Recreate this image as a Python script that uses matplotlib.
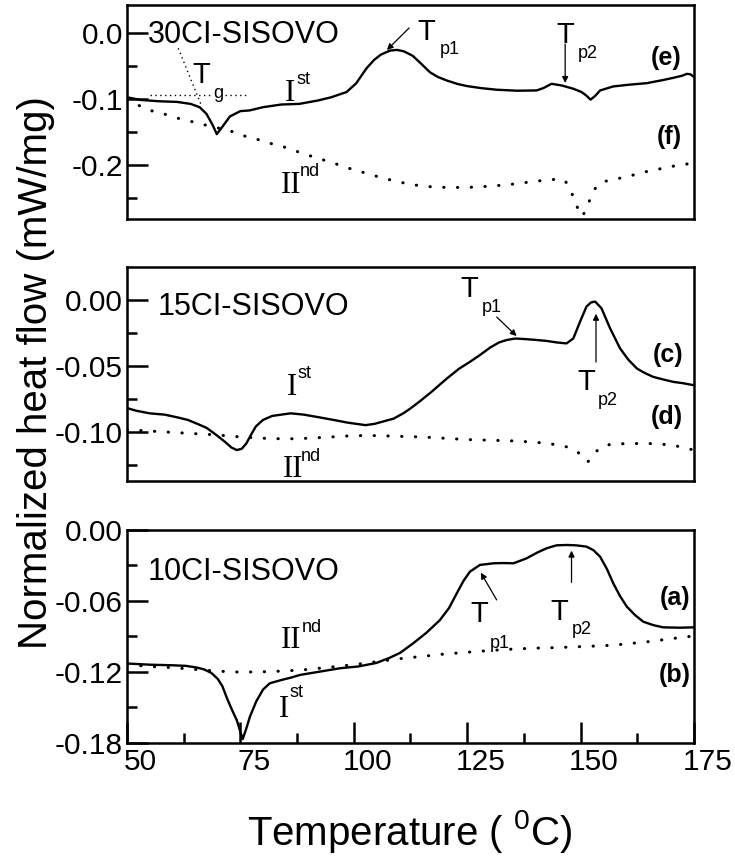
import matplotlib
matplotlib.use('Agg')
import matplotlib.pyplot as plt
import matplotlib.transforms as mtransforms

plt.rcParams['font.family'] = 'Liberation Sans'
plt.rcParams['axes.unicode_minus'] = False
plt.rcParams['mathtext.fontset'] = 'custom'
plt.rcParams['mathtext.rm'] = 'Liberation Sans'

# --- 30CI-SISOVO, 1st run (e) and 2nd run (f)
t_e = [50, 53, 57, 61, 64, 66, 67.5, 68.8, 69.8, 71, 72.7, 75, 77, 80, 84, 88, 92, 95,
       98.4, 100.5, 102.8, 104.5, 106, 108, 109.5, 111, 113, 115, 116.8, 118.5, 120.5,
       123, 125, 128, 131.5, 136, 140.3, 141.8, 143.6, 145.8, 148.4, 150.2, 151.2,
       152.2, 153.2, 154.3, 157.2, 160.5, 164.6, 168, 170.4, 172.5, 173.4, 174.2, 175]
hf_e = [-0.097, -0.101, -0.103, -0.104, -0.107, -0.112, -0.122, -0.138, -0.153, -0.142,
        -0.126, -0.118, -0.117, -0.112, -0.108, -0.107, -0.102, -0.097, -0.089, -0.076,
        -0.053, -0.040, -0.032, -0.026, -0.025, -0.027, -0.034, -0.047, -0.059, -0.066,
        -0.0715, -0.077, -0.080, -0.083, -0.0855, -0.087, -0.0866, -0.083, -0.0765,
        -0.079, -0.084, -0.089, -0.094, -0.1006, -0.095, -0.0866, -0.0805, -0.078,
        -0.0755, -0.071, -0.0675, -0.064, -0.0614, -0.062, -0.066]

t_f = [50, 52.5, 55.1, 58, 61.3, 64.3, 67.2, 70.3, 73.4, 76.4, 79.3, 83, 85.9, 88.1,
       91.8, 95.5, 99, 102.8, 106, 109.5, 113, 117, 120.5, 125, 130.4, 135, 140.8, 145.4,
       146.6, 147.6, 148.6, 149.5, 150.4, 151.3, 152.3, 153.5, 155.2, 160, 164.5, 168,
       171.7, 175]
hf_f = [-0.100, -0.109, -0.117, -0.122, -0.129, -0.134, -0.139, -0.144, -0.1495, -0.157,
        -0.162, -0.170, -0.1747, -0.181, -0.189, -0.197, -0.205, -0.2125, -0.219, -0.225,
        -0.230, -0.233, -0.234, -0.234, -0.232, -0.229, -0.224, -0.221, -0.224, -0.235,
        -0.252, -0.268, -0.278, -0.266, -0.248, -0.232, -0.225, -0.218, -0.210, -0.205,
        -0.200, -0.197]

# --- 15CI-SISOVO, (c) and (d)
t_c = [50, 52, 55, 58.3, 61, 63.4, 65.5, 67.5, 69.5, 71.7, 73, 74.2, 75.3, 76.3, 77.4,
       78.4, 80, 82, 84, 86.1, 89, 92.3, 95.5, 98.5, 100.5, 102.6, 104.6, 106.7, 108.8,
       110.9, 112.4, 114.5, 117, 120.5, 123.2, 125.5, 127.8, 130, 132, 133.7, 135.6,
       137.3, 140, 142.5, 144.8, 146.9, 148.4, 149.9, 151.3, 152.3, 153.2, 154.6, 156.5,
       158.7, 160.5, 162.4, 164, 166, 168, 170.4, 172.5, 175]
hf_c = [-0.082, -0.084, -0.086, -0.087, -0.089, -0.091, -0.094, -0.097, -0.102, -0.108,
        -0.112, -0.114, -0.113, -0.109, -0.102, -0.096, -0.091, -0.088, -0.087, -0.086,
        -0.087, -0.089, -0.091, -0.093, -0.094, -0.095, -0.094, -0.092, -0.090, -0.086,
        -0.0825, -0.077, -0.070, -0.0595, -0.052, -0.047, -0.0416, -0.036, -0.032,
        -0.0301, -0.029, -0.0293, -0.030, -0.0308, -0.032, -0.0327, -0.0289, -0.016,
        -0.0046, -0.0015, -0.0008, -0.0059, -0.0212, -0.0365, -0.045, -0.0518, -0.055,
        -0.0582, -0.060, -0.062, -0.063, -0.0646]

t_d = [50, 55, 60, 65, 70, 75, 80, 85, 90, 95, 100, 105, 110, 115, 120, 125, 130, 135,
       140, 145, 147.5, 149.5, 151.6, 152.8, 154, 156, 160, 165, 170, 175]
hf_d = [-0.0985, -0.0995, -0.1005, -0.1015, -0.1025, -0.104, -0.105, -0.1055, -0.105,
        -0.104, -0.103, -0.103, -0.1035, -0.104, -0.105, -0.106, -0.1065, -0.107, -0.108,
        -0.110, -0.112, -0.116, -0.123, -0.118, -0.113, -0.110, -0.109, -0.109, -0.110,
        -0.114]

# --- 10CI-SISOVO, (a) and (b)
t_a = [50, 55, 60, 63, 65.5, 67, 68.6, 70, 71, 72, 73, 74.2, 75.5, 76.3, 77.1, 78.5, 80,
       81.5, 84, 86.1, 88.1, 92.3, 97, 101, 105, 108, 110.2, 113.1, 116, 119, 121, 122.7,
       124.2, 125.6, 127.8, 130.8, 133, 135.2, 138.1, 140.5, 142.5, 144.7, 146.9, 149,
       151.3, 152.8, 154.3, 155.8, 157.2, 158.7, 160.2, 162, 163.8, 166, 168.2, 171.9, 175]
hf_a = [-0.113, -0.114, -0.1145, -0.115, -0.1165, -0.118, -0.121, -0.126, -0.132, -0.142,
        -0.151, -0.161, -0.177, -0.168, -0.158, -0.145, -0.135, -0.1297, -0.127, -0.125,
        -0.1227, -0.120, -0.117, -0.1155, -0.1125, -0.108, -0.104, -0.0959, -0.087,
        -0.0762, -0.066, -0.0536, -0.043, -0.0353, -0.0296, -0.0282, -0.028, -0.0282,
        -0.024, -0.019, -0.0155, -0.013, -0.0127, -0.013, -0.0141, -0.017, -0.0226,
        -0.033, -0.0451, -0.056, -0.0649, -0.072, -0.0776, -0.0805, -0.0824, -0.0827,
        -0.0824]

t_b = [50, 55, 60, 65, 70, 75, 80, 85, 90, 95, 100, 105, 110, 115, 120, 125, 130, 135,
       140, 145, 150, 155, 160, 165, 170, 175]
hf_b = [-0.114, -0.1155, -0.1165, -0.118, -0.1195, -0.1203, -0.120, -0.1193, -0.118,
        -0.116, -0.114, -0.1115, -0.109, -0.107, -0.105, -0.1035, -0.102, -0.1008, -0.100,
        -0.0995, -0.0987, -0.098, -0.0965, -0.0945, -0.092, -0.0897]

x_major = [50, 75, 100, 125, 150, 175]
x_minor = [62.5, 87.5, 112.5, 137.5, 162.5]

dot_style = dict(color='k', lw=2.2, ls=(0, (0.1, 4.4)), dash_capstyle='round')
solid_style = dict(color='k', lw=1.7)
arrow_style = dict(arrowstyle='-|>', color='k', lw=0.9, mutation_scale=9,
                   shrinkA=0, shrinkB=0)


def sub_label(ax, x, y, main, small, dx, dy, serif=False, size=21):
    # big letter + small sub/superscript placed by offset in points
    fam = 'Liberation Serif' if serif else 'Liberation Sans'
    ax.text(x, y, main, ha='center', va='baseline', fontsize=size, family=fam)
    ax.annotate(small, (x, y), xytext=(dx, dy), textcoords='offset points',
                ha='left', va='baseline', fontsize=13)


def arrow(ax, tail, head):
    ax.annotate('', xy=head, xytext=tail, arrowprops=arrow_style)


def setup(ax, ylim, majors, minors, labels, show_x=False):
    ax.set_xlim(50, 175)
    ax.set_ylim(*ylim)
    for s in ax.spines.values():
        s.set_linewidth(1.8)
    ax.set_yticks(majors)
    ax.set_yticklabels(labels)
    ax.set_yticks(minors, minor=True)
    ax.tick_params(axis='y', which='major', direction='in', length=15, width=1.8,
                   labelsize=21.5, pad=3)
    ax.tick_params(axis='y', which='minor', direction='in', length=7.5, width=1.8)
    ax.tick_params(right=False, top=False)
    if show_x:
        ax.set_xticks(x_major)
        ax.set_xticklabels([str(v) for v in x_major])
        ax.set_xticks(x_minor, minor=True)
        ax.tick_params(axis='x', which='major', direction='in', length=15, width=1.8,
                       labelsize=21.5, pad=3.5)
        ax.tick_params(axis='x', which='minor', direction='in', length=7.5, width=1.8)
        shift = mtransforms.ScaledTranslation(13.5 / 100, 0, ax.figure.dpi_scale_trans)
        for lab in ax.get_xticklabels():
            lab.set_transform(lab.get_transform() + shift)
    else:
        ax.tick_params(axis='x', which='both', bottom=False, labelbottom=False)


fig = plt.figure(figsize=(7.35, 8.57), dpi=100)
ax_top = fig.add_axes([0.1728, 0.7445, 0.7714, 0.2497])
ax_mid = fig.add_axes([0.1728, 0.4387, 0.7714, 0.2497])
ax_bot = fig.add_axes([0.1728, 0.1334, 0.7714, 0.2482])

# top panel
ax = ax_top
ax.plot(t_f, hf_f, **dot_style)
ax.plot(t_e, hf_e, **solid_style)
setup(ax, (-0.2819, 0.0433), [0.0, -0.1, -0.2], [-0.05, -0.15, -0.25],
      ['0.0', '-0.1', '-0.2'])
ax.text(54.6, -0.0149, '30CI-SISOVO', ha='left', va='baseline', fontsize=22)
tg_line = dict(color='k', lw=1.0, ls=(0, (1, 2.5)))
ax.plot([55.1, 68.6], [-0.0935, -0.0935], **tg_line)
ax.plot([71.6, 76.5], [-0.0935, -0.0935], **tg_line)
ax.plot([61.3, 66.5], [-0.0225, -0.1112], **tg_line)
sub_label(ax, 66.4, -0.0752, 'T', 'g', 8.3, -10.6)
sub_label(ax, 116.05, -0.0099, 'T', 'p1', 9.6, -10.3)
arrow(ax, (112.2, 0.0084), (107.3, -0.0251))
sub_label(ax, 146.56, -0.0149, 'T', 'p2', 9.4, -10.4)
arrow(ax, (146.6, -0.016), (146.6, -0.0752))
sub_label(ax, 85.9, -0.1026, 'I', 'st', 4.8, 12.3, serif=True, size=22)
sub_label(ax, 86.15, -0.2424, 'II', 'nd', 6.5, 12.5, serif=True, size=22)
ax.text(172.35, -0.0372, '(e)', ha='right', va='center', fontsize=18, fontweight='bold')
ax.text(172.3, -0.1568, '(f)', ha='right', va='center', fontsize=18, fontweight='bold')

# middle panel
ax = ax_mid
ax.plot(t_d, hf_d, **dot_style)
ax.plot(t_c, hf_c, **solid_style)
setup(ax, (-0.1376, 0.0255), [0.0, -0.05, -0.10], [-0.025, -0.075, -0.125],
      ['0.00', '-0.05', '-0.10'])
ax.text(56.8, -0.011, '15CI-SISOVO', ha='left', va='baseline', fontsize=22)
sub_label(ax, 125.4, 0.0027, 'T', 'p1', 9.1, -10.8)
arrow(ax, (131.5, -0.0126), (135.9, -0.0271))
sub_label(ax, 151.3, -0.0684, 'T', 'p2', 8.4, -10.4)
arrow(ax, (153.4, -0.0469), (153.4, -0.0101))
sub_label(ax, 86.3, -0.072, 'I', 'st', 4.3, 12.3, serif=True, size=22)
sub_label(ax, 86.6, -0.1345, 'II', 'nd', 5.5, 11.7, serif=True, size=22)
ax.text(172.6, -0.0412, '(c)', ha='right', va='center', fontsize=18, fontweight='bold')
ax.text(172.6, -0.0886, '(d)', ha='right', va='center', fontsize=18, fontweight='bold')

# bottom panel
ax = ax_bot
ax.plot(t_b, hf_b, **dot_style)
ax.plot(t_a, hf_a, **solid_style)
setup(ax, (-0.18, 0.0), [0.0, -0.06, -0.12, -0.18], [-0.03, -0.09, -0.15],
      ['0.00', '-0.06', '-0.12', '-0.18'], show_x=True)
ax.text(54.6, -0.0423, '10CI-SISOVO', ha='left', va='baseline', fontsize=22)
sub_label(ax, 127.7, -0.0776, 'T', 'p1', 7.6, -19.2)
arrow(ax, (131.5, -0.0592), (128.0, -0.0361))
sub_label(ax, 145.2, -0.0762, 'T', 'p2', 9.1, -10.1)
arrow(ax, (148.0, -0.0443), (148.0, -0.0175))
sub_label(ax, 86.1, -0.1001, 'II', 'nd', 7.7, 12.0, serif=True, size=22)
sub_label(ax, 84.6, -0.158, 'I', 'st', 4.3, 14.4, serif=True, size=22)
ax.text(174.1, -0.0578, '(a)', ha='right', va='center', fontsize=18, fontweight='bold')
ax.text(174.3, -0.1227, '(b)', ha='right', va='center', fontsize=18, fontweight='bold')

# axis titles
fig.text(0.064, 0.5653, 'Normalized heat flow (mW/mg)', rotation=90,
         rotation_mode='anchor', ha='center', va='baseline', fontsize=29)
fig.text(0.558, 0.014, r'Temperature ( $\mathregular{^0}$C)', ha='center', va='baseline',
         fontsize=29)

fig.savefig('out.png', dpi=100, facecolor='white')
